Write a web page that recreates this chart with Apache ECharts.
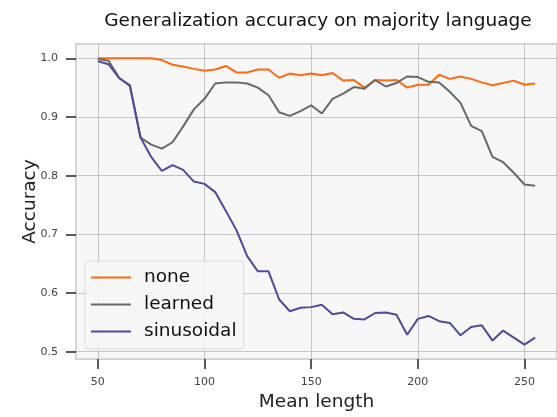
<!DOCTYPE html>
<html lang="en">
<head>
    <meta charset="UTF-8">
    <title>Generalization accuracy on majority language</title>
    <script src="https://cdn.jsdelivr.net/npm/echarts@6.0.0/dist/echarts.min.js"></script>
    <style>
        body { margin: 0; background: #fff; }
        #chart { width: 557px; height: 417px; }
    </style>
</head>
<body>
    <div id="chart"></div>
    <script>
        // mean lengths on the x axis
        var lengths = [50, 55, 60, 65, 70, 75, 80, 85, 90, 95, 100, 105, 110, 115, 120, 125, 130, 135, 140, 145,
                       150, 155, 160, 165, 170, 175, 180, 185, 190, 195, 200, 205, 210, 215, 220, 225, 230, 235, 240, 245, 250, 255];

        var noneAcc = [1.000, 1.000, 1.000, 1.000, 1.000, 1.000, 0.997, 0.989, 0.986, 0.982, 0.979, 0.981, 0.987, 0.976, 0.976,
                       0.981, 0.981, 0.967, 0.974, 0.971, 0.974, 0.971, 0.975, 0.962, 0.963, 0.950, 0.963, 0.962, 0.963, 0.950,
                       0.955, 0.955, 0.972, 0.965, 0.969, 0.965, 0.959, 0.954, 0.958, 0.962, 0.955, 0.957];

        var learnedAcc = [0.999, 0.996, 0.967, 0.953, 0.865, 0.853, 0.846, 0.857, 0.884, 0.913, 0.931, 0.957, 0.959, 0.959, 0.957,
                          0.950, 0.937, 0.908, 0.902, 0.910, 0.920, 0.906, 0.931, 0.940, 0.951, 0.948, 0.963, 0.952, 0.958, 0.969,
                          0.968, 0.960, 0.959, 0.943, 0.924, 0.885, 0.876, 0.832, 0.823, 0.805, 0.785, 0.783];

        var sinusoidalAcc = [0.995, 0.990, 0.966, 0.954, 0.865, 0.832, 0.808, 0.818, 0.810, 0.790, 0.786, 0.772, 0.740, 0.707, 0.663,
                             0.637, 0.637, 0.589, 0.569, 0.575, 0.576, 0.580, 0.564, 0.567, 0.556, 0.555, 0.566, 0.567, 0.563, 0.529,
                             0.556, 0.561, 0.552, 0.549, 0.528, 0.542, 0.545, 0.519, 0.536, 0.524, 0.512, 0.524];

        var xTicks = [50, 100, 150, 200, 250];
        var yTicks = [0.5, 0.6, 0.7, 0.8, 0.9, 1.0];

        function pairs(vals) {
            var out = [];
            for (var i = 0; i < lengths.length; i++) out.push([lengths[i], vals[i]]);
            return out;
        }

        function lineSeries(name, color, vals) {
            return {
                name: name,
                type: 'line',
                data: pairs(vals),
                symbol: 'none',
                lineStyle: { color: color, width: 2 },
                itemStyle: { color: color },
                animation: false
            };
        }

        var font = 'DejaVu Sans';
        var myChart = echarts.init(document.getElementById('chart'));
        myChart.setOption({
            animation: false,
            title: {
                text: 'Generalization accuracy on majority language',
                left: 313,
                top: 7,
                textAlign: 'center',
                textStyle: { fontFamily: font, fontSize: 18.5, fontWeight: 'normal', color: '#111' }
            },
            grid: {
                left: 76, right: -3, top: 44, bottom: 58,
                show: true,
                backgroundColor: '#f7f7f7',
                borderColor: '#d4d4d4',
                borderWidth: 2
            },
            legend: {
                orient: 'vertical',
                left: 85,
                top: 261,
                padding: [7, 7, 8, 6],
                icon: 'path://M0,0L40,0L40,2L0,2Z',
                itemWidth: 40,
                itemHeight: 2,
                itemGap: 8,
                backgroundColor: 'rgba(247,247,247,0.85)',
                borderColor: '#dcdcdc',
                borderWidth: 1,
                borderRadius: 3,
                textStyle: { fontFamily: font, fontSize: 18.5, lineHeight: 18, color: '#111', padding: [0, 0, 0, 8] },
                data: ['none', 'learned', 'sinusoidal']
            },
            xAxis: {
                type: 'value',
                min: 39.75,
                max: 265.25,
                name: 'Mean length',
                nameLocation: 'middle',
                nameGap: 34,
                nameMoveOverlap: false,
                nameTextStyle: { fontFamily: font, fontSize: 18.5, color: '#222' },
                axisLine: { show: true, onZero: false, lineStyle: { color: '#d4d4d4', width: 2 } },
                axisTick: { show: true, inside: false, length: 10, customValues: xTicks, lineStyle: { color: '#222', width: 1.5 } },
                axisLabel: { customValues: xTicks, fontFamily: font, fontSize: 11, color: '#444', margin: 18 },
                splitLine: { show: true, lineStyle: { color: '#c4c4c4', width: 1 } }
            },
            yAxis: {
                type: 'value',
                min: 0.4876,
                max: 1.0244,
                name: 'Accuracy',
                nameLocation: 'middle',
                nameGap: 36,
                nameMoveOverlap: false,
                nameTextStyle: { fontFamily: font, fontSize: 18.5, color: '#222' },
                axisLine: { show: true, onZero: false, lineStyle: { color: '#d4d4d4', width: 2 } },
                axisTick: { show: true, inside: false, length: 10, customValues: yTicks, lineStyle: { color: '#222', width: 1.5 } },
                axisLabel: {
                    customValues: yTicks, fontFamily: font, fontSize: 11, color: '#444', margin: 18,
                    formatter: function (v) { return v.toFixed(1); }
                },
                splitLine: { show: true, lineStyle: { color: '#c4c4c4', width: 1 } }
            },
            series: [
                lineSeries('none', '#ff6a0e', noneAcc),
                lineSeries('learned', '#686868', learnedAcc),
                lineSeries('sinusoidal', '#4e4b9c', sinusoidalAcc)
            ]
        });
    </script>
</body>
</html>
